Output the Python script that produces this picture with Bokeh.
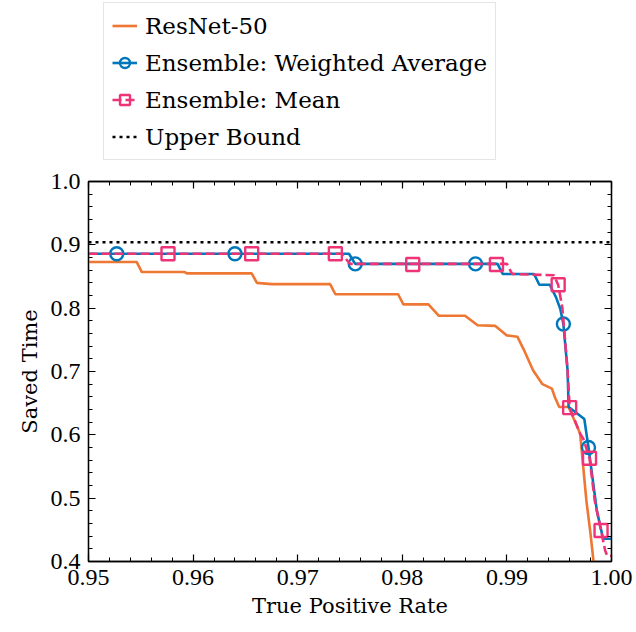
from bokeh.plotting import figure
from bokeh.layouts import column
from bokeh.models import (Range1d, SingleIntervalTicker, LinearAxis, PrintfTickFormatter,
                          CustomJSTickFormatter, Legend, LegendItem)
from bokeh.embed import file_html
from bokeh.resources import INLINE

# ---- data ----
resnet_tpr = [0.9500, 0.9546, 0.9551, 0.9592, 0.9594, 0.9656, 0.9661, 0.9675, 0.9731, 0.9736,
              0.9796, 0.9801, 0.9825, 0.9835, 0.9860, 0.9872, 0.9889, 0.9900, 0.9910, 0.9916,
              0.9925, 0.9934, 0.9943, 0.9946, 0.9950, 0.9959, 0.9970, 0.9976, 0.9980, 0.9983]
resnet_saved = [0.873, 0.873, 0.857, 0.857, 0.855, 0.855, 0.840, 0.838, 0.838, 0.822,
                0.822, 0.806, 0.806, 0.788, 0.788, 0.773, 0.772, 0.757, 0.755, 0.735,
                0.702, 0.680, 0.673, 0.659, 0.644, 0.644, 0.602, 0.496, 0.443, 0.397]

wa_tpr = [0.9500, 0.9749, 0.9755, 0.9891, 0.9896, 0.9926, 0.9931, 0.9941, 0.9947, 0.9951,
          0.9954, 0.9958, 0.9959, 0.9970, 0.9974, 0.9978, 0.9986, 0.9992, 1.0000]
wa_saved = [0.886, 0.886, 0.870, 0.870, 0.854, 0.854, 0.837, 0.837, 0.817, 0.799,
            0.775, 0.702, 0.644, 0.630, 0.625, 0.580, 0.480, 0.436, 0.436]
wa_mark_tpr = [0.9527, 0.9640, 0.9755, 0.9870, 0.9954, 0.9978]
wa_mark_saved = [0.886, 0.886, 0.870, 0.870, 0.775, 0.580]

mean_tpr = [0.9500, 0.9742, 0.9750, 0.9900, 0.9905, 0.9945, 0.9949, 0.9953, 0.9958, 0.9960,
            0.9970, 0.9973, 0.9979, 0.9984, 0.9990, 0.9994, 0.9996, 1.0000]
mean_saved = [0.886, 0.886, 0.870, 0.870, 0.854, 0.852, 0.837, 0.801, 0.702, 0.643,
              0.602, 0.594, 0.563, 0.496, 0.449, 0.417, 0.409, 0.409]
mean_mark_tpr = [0.9576, 0.9656, 0.9736, 0.9810, 0.9890, 0.9949, 0.9960, 0.9979, 0.9990]
mean_mark_saved = [0.886, 0.886, 0.886, 0.869, 0.869, 0.837, 0.643, 0.563, 0.449]

upper_tpr = [0.95, 1.00]
upper_saved = [0.904, 0.904]

series_labels = ["ResNet-50", "Ensemble: Weighted Average", "Ensemble: Mean", "Upper Bound"]

x_ticks_interval = 0.01
y_ticks_interval = 0.1

ORANGE = "#EE7733"
BLUE = "#0077BB"
PINK = "#EE3377"

TICK_FONT = "Liberation Serif"
TEXT_FONT = "DejaVu Serif"

STY_RES = dict(line_color=ORANGE, line_width=2.6)
STY_WA = dict(line_color=BLUE, line_width=2.6)
STY_WA_M = dict(marker="circle", size=13, fill_color=None, line_color=BLUE, line_width=2.4)
STY_MEAN = dict(line_color=PINK, line_width=2.6, line_dash="9 4")
STY_MEAN_M = dict(marker="square", size=13, fill_color=None, line_color=PINK, line_width=2.4)
STY_UP = dict(line_color="black", line_width=2.6, line_dash="3 4")

STRIP_H = 166

# ---------- main plot ----------
p = figure(width=636, height=632 - STRIP_H, output_backend="svg", toolbar_location=None,
           x_range=Range1d(0.95, 1.0), y_range=Range1d(0.4, 1.0),
           x_axis_type=None, y_axis_type=None,
           min_border_left=88, min_border_right=25, min_border_top=181 - STRIP_H,
           min_border_bottom=71)
p.background_fill_color = "white"
p.border_fill_color = "white"
p.outline_line_color = "black"
p.outline_line_width = 1.3


def make_axis(dim, labeled, label=""):
    ticker = SingleIntervalTicker(interval=x_ticks_interval if dim == "x" else y_ticks_interval,
                                  num_minor_ticks=5)
    ax = LinearAxis(ticker=ticker)
    ax.major_tick_in = 7
    ax.major_tick_out = 0
    ax.minor_tick_in = 4
    ax.minor_tick_out = 0
    ax.axis_line_color = "black"
    ax.axis_line_width = 1.3
    ax.major_tick_line_width = 1.2
    ax.minor_tick_line_width = 1.0
    if labeled:
        ax.formatter = PrintfTickFormatter(format="%.2f" if dim == "x" else "%.1f")
        ax.major_label_text_font = TICK_FONT
        ax.major_label_text_font_size = "24px"
        ax.major_label_text_color = "black"
        ax.major_label_standoff = 8
        ax.axis_label = label
        ax.axis_label_text_font = TEXT_FONT
        ax.axis_label_text_font_size = "21px"
        ax.axis_label_text_font_style = "normal"
        ax.axis_label_text_color = "black"
        ax.axis_label_standoff = 6
    else:
        ax.formatter = CustomJSTickFormatter(code="return ''")
        ax.major_label_text_font_size = "0px"
        ax.major_label_standoff = 0
    return ax, ticker


xb, xt = make_axis("x", True, "True Positive Rate")
yl, yt = make_axis("y", True, "Saved Time")
xa, _ = make_axis("x", False)
yr, _ = make_axis("y", False)
p.add_layout(xb, "below")
p.add_layout(yl, "left")
p.add_layout(xa, "above")
p.add_layout(yr, "right")

p.xgrid.ticker = xt
p.ygrid.ticker = yt
for g in (p.xgrid, p.ygrid):
    g.grid_line_color = "#b5b5b5"
    g.grid_line_width = 1.3

p.line(resnet_tpr, resnet_saved, **STY_RES)
p.line(wa_tpr, wa_saved, **STY_WA)
p.scatter(wa_mark_tpr, wa_mark_saved, **STY_WA_M)
p.line(mean_tpr, mean_saved, **STY_MEAN)
p.scatter(mean_mark_tpr, mean_mark_saved, **STY_MEAN_M)
p.line(upper_tpr, upper_saved, **STY_UP)

# ---------- legend strip above the plot ----------
# Same series drawn again (out of this strip's visible y window) only to feed the legend.
lg = figure(width=636, height=STRIP_H, output_backend="svg", toolbar_location=None,
            x_range=Range1d(0.95, 1.0), y_range=Range1d(2.0, 3.0),
            x_axis_type=None, y_axis_type=None,
            min_border_left=88, min_border_right=25, min_border_top=0, min_border_bottom=0)
lg.outline_line_color = None
lg.grid.visible = False
lg.background_fill_color = "white"
lg.border_fill_color = "white"

l_res = lg.line(resnet_tpr, resnet_saved, **STY_RES)
l_wa = lg.line(wa_tpr, wa_saved, **STY_WA)
l_wa_m = lg.scatter(wa_mark_tpr, wa_mark_saved, **STY_WA_M)
l_mean = lg.line(mean_tpr, mean_saved, **STY_MEAN)
l_mean_m = lg.scatter(mean_mark_tpr, mean_mark_saved, **STY_MEAN_M)
l_up = lg.line(upper_tpr, upper_saved, **STY_UP)

legend = Legend(items=[
    LegendItem(label=series_labels[0], renderers=[l_res]),
    LegendItem(label=series_labels[1], renderers=[l_wa, l_wa_m]),
    LegendItem(label=series_labels[2], renderers=[l_mean, l_mean_m]),
    LegendItem(label=series_labels[3], renderers=[l_up]),
], location=(15, 6))
legend.label_text_font = TEXT_FONT
legend.label_text_font_size = "23px"
legend.label_text_color = "black"
legend.glyph_width = 25
legend.glyph_height = 29
legend.label_height = 29
legend.label_standoff = 8
legend.spacing = 8
legend.padding = 8
legend.margin = 0
legend.border_line_color = "#cccccc"
legend.border_line_width = 1.5
legend.background_fill_color = "white"
legend.background_fill_alpha = 1.0
lg.add_layout(legend, "center")

layout = column(lg, p, spacing=0)
open("out.html", "w").write(file_html(layout, INLINE))
